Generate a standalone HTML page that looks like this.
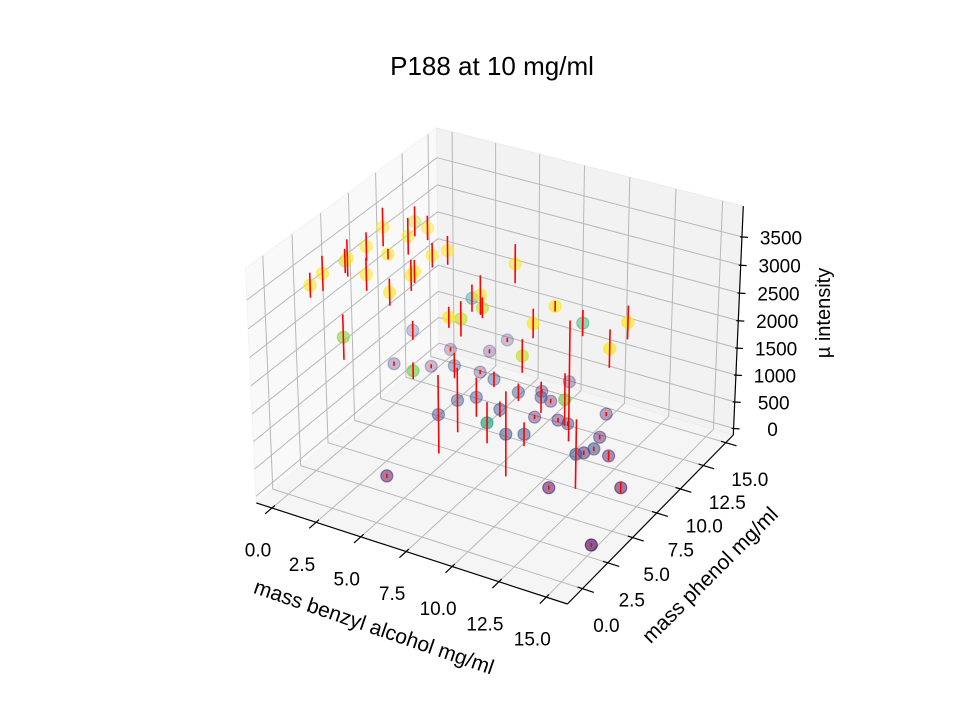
<!DOCTYPE html>
<html>
<head>
<meta charset="utf-8">
<style>
  html, body { margin: 0; padding: 0; background: #ffffff; }
  svg { display: block; font-family: "Liberation Sans", "DejaVu Sans", sans-serif; }
</style>
</head>
<body>
<svg id="chart" width="960" height="720" viewBox="0 0 960 720" xmlns="http://www.w3.org/2000/svg">
  <rect width="960" height="720" fill="#ffffff"/>
  <g id="panes"></g>
  <g id="grid"></g>
  <g id="axes"></g>
  <g id="labels"></g>
  <g id="marks"></g>
  <g id="errs"></g>
  <text x="492" y="75" text-anchor="middle" font-size="26" fill="#000">P188 at 10 mg/ml</text>
  <text x="374" y="634" text-anchor="middle" font-size="21" fill="#000" transform="rotate(19 374 627)">mass benzyl alcohol mg/ml</text>
  <text x="710" y="582" text-anchor="middle" font-size="21" fill="#000" transform="rotate(-45 710 575)">mass phenol mg/ml</text>
  <text x="823" y="320" text-anchor="middle" font-size="20" fill="#000" transform="rotate(-90 823 313)">µ intensity</text>
</svg>
<script>
const benzyl = [0.85,0.73,0.04,0.91,1.08,2.55,0.70,2.37,0.8,2.25,2.61,4.24,4.62,4.41,4.35,4.4,3.03,-0.07,-0.12,7.16,0.53,0.5,3.55,3.35,7.99,7.7,8.18,8.03,8.06,11.68,11.6,10.58,15.29,15.7,11.85,3.34,3.13,3.24,5.91,7.6,7.56,6.87,8.75,14.4,7.72,10.7,11.46,13.24,11.48,12.74,12.65,8.92,11.07,7.78,9.73,8.98,7.59,10.6,6.03,5.38,5.27,3.82,11.08,14.06,15.21];
const phenol = [1.24,2.51,5.56,4.42,5.86,3.48,7.99,5.73,10.8,7.78,9.0,6.7,7.49,4.46,4.87,2.54,0.59,11.88,10.1,0.0,12.65,14.65,9.86,11.97,1.85,3.44,4.43,4.87,7.94,5.25,3.31,10.09,5.58,3.02,1.85,15.57,14.1,12.94,9.68,14.38,9.19,12.84,9.33,1.23,12.21,12.5,10.38,6.37,8.7,5.51,9.06,10.78,7.78,10.45,5.87,5.43,7.31,0.8,7.73,7.02,5.38,2.88,5.91,7.66,2.51];
const intensity = [3500,3500,3200,3500,3500,3500,3500,3500,3200,3500,3500,3500,3500,3500,3500,3500,2900,950,600,2800,200,200,950,1850,3500,3200,3500,3200,3500,3500,3500,2350,3500,3500,3200,500,500,300,950,300,950,300,950,2800,300,300,300,950,300,950,300,300,950,300,950,950,950,2100,950,950,950,100,100,100,100];
const errors = [216,306,216,324,252,288,342,90,270,324,216,216,252,270,200,234,396,180,40,144,40,40,234,252,180,306,342,180,342,90,252,234,288,324,288,40,40,40,144,1150,162,40,288,450,40,40,40,40,40,630,90,40,40,40,216,774,144,360,360,594,720,40,40,108,40];
const xTicks = [0,2.5,5,7.5,10,12.5,15];
const yTicks = [0,2.5,5,7.5,10,12.5,15];
const zTicks = [0,500,1000,1500,2000,2500,3000,3500];
const xTickLabels = ["0.0","2.5","5.0","7.5","10.0","12.5","15.0"];
const yTickLabels = ["0.0","2.5","5.0","7.5","10.0","12.5","15.0"];
const zTickLabels = ["0","500","1000","1500","2000","2500","3000","3500"];

const X0=-0.9, X1=16.1, Y0=-1.45, Y1=15.85, Z0=-125, Z1=4040;
const AS=[1.1428,1.1428,0.857];
function proj(x,y,z){
  const px=(x-X0)/(X1-X0)*AS[0]-AS[0]/2;
  const py=(y-Y0)/(Y1-Y0)*AS[1]-AS[1]/2;
  const pz=(z-Z0)/(Z1-Z0)*AS[2]-AS[2]/2;
  const ud=0.866*px+0.5*py;
  const vd=-0.25*px+0.433*py+0.866*pz;
  const wd=0.433*px-0.75*py+0.5*pz;
  const dep=10-wd;
  return [499+3120*ud/dep, 355-3120*vd/dep, dep];
}
const NS="http://www.w3.org/2000/svg";
function mk(tag, attrs, parent){
  const e=document.createElementNS(NS,tag);
  for(const k in attrs) e.setAttribute(k, attrs[k]);
  parent.appendChild(e);
  return e;
}
function poly(pts){ return pts.map(p=>{const q=proj(p[0],p[1],p[2]);return q[0].toFixed(1)+","+q[1].toFixed(1);}).join(" "); }
function line(a,b,parent,stroke,w){
  const p=proj(a[0],a[1],a[2]), q=proj(b[0],b[1],b[2]);
  return mk("line",{x1:p[0].toFixed(1),y1:p[1].toFixed(1),x2:q[0].toFixed(1),y2:q[1].toFixed(1),stroke:stroke,"stroke-width":w},parent);
}
const panes=document.getElementById("panes");
let e;
e=mk("polygon",{points:poly([[X0,Y0,Z0],[X1,Y0,Z0],[X1,Y1,Z0],[X0,Y1,Z0]]),fill:"#f5f5f5",stroke:"#f0f0f0"},panes);


e=mk("polygon",{points:poly([[X0,Y0,Z0],[X0,Y1,Z0],[X0,Y1,Z1],[X0,Y0,Z1]]),fill:"#f9f9f9",stroke:"#f2f2f2"},panes);


e=mk("polygon",{points:poly([[X0,Y1,Z0],[X1,Y1,Z0],[X1,Y1,Z1],[X0,Y1,Z1]]),fill:"#f2f2f2",stroke:"#ececec"},panes);



const grid=document.getElementById("grid");
const GC="#b8b8b8";
xTicks.forEach(t=>{
  e=line([t,Y0,Z0],[t,Y1,Z0],grid,GC,1);
  
  
  e=line([t,Y1,Z0],[t,Y1,Z1],grid,GC,1);
  
  
});
yTicks.forEach(t=>{
  e=line([X0,t,Z0],[X1,t,Z0],grid,GC,1);
  
  
  e=line([X0,t,Z0],[X0,t,Z1],grid,GC,1);
  
  
});
zTicks.forEach(t=>{
  e=line([X0,Y0,t],[X0,Y1,t],grid,GC,1);
  
  
  e=line([X0,Y1,t],[X1,Y1,t],grid,GC,1);
  
  
});

const axes=document.getElementById("axes");
e=line([X0,Y0,Z0],[X1,Y0,Z0],axes,"#000",1.2);


e=line([X1,Y0,Z0],[X1,Y1,Z0],axes,"#000",1.2);


e=line([X1,Y1,Z0],[X1,Y1,Z1],axes,"#000",1.2);



const labels=document.getElementById("labels");
const yr=Y1-Y0, xr=X1-X0;
xTicks.forEach((t,i)=>{
  e=line([t,Y0+0.015*yr,Z0],[t,Y0-0.035*yr,Z0],axes,"#000",1.2);
  
  
  const p=proj(t,Y0,Z0);
  e=mk("text",{x:(p[0]-14).toFixed(1),y:(p[1]+43).toFixed(1),"text-anchor":"middle","dominant-baseline":"central","font-size":"19",fill:"#000"},labels);
  e.textContent=xTickLabels[i];
  
  
});
yTicks.forEach((t,i)=>{
  e=line([X1-0.015*xr,t,Z0],[X1+0.035*xr,t,Z0],axes,"#000",1.2);
  
  
  const p=proj(X1,t,Z0);
  e=mk("text",{x:(p[0]+24).toFixed(1),y:(p[1]+38).toFixed(1),"text-anchor":"middle","dominant-baseline":"central","font-size":"19",fill:"#000"},labels);
  e.textContent=yTickLabels[i];
  
  
});
zTicks.forEach((t,i)=>{
  const p=proj(X1,Y1,t);
  e=mk("line",{x1:(p[0]-2).toFixed(1),y1:p[1].toFixed(1),x2:(p[0]+6).toFixed(1),y2:(p[1]+0.5).toFixed(1),stroke:"#000","stroke-width":1.2},axes);
  
  
  e=mk("text",{x:(p[0]+39).toFixed(1),y:(p[1]+2).toFixed(1),"text-anchor":"middle","dominant-baseline":"central","font-size":"19",fill:"#000"},labels);
  e.textContent=zTickLabels[i];
  
  
});

const VIR=[[68,1,84],[72,40,120],[62,74,137],[49,104,142],[38,130,142],[31,158,137],[53,183,121],[109,205,89],[180,222,44],[253,231,37]];
function viridis(t){
  t=Math.max(0,Math.min(1,t));
  const s=t*(VIR.length-1), i=Math.min(VIR.length-2,Math.floor(s)), f=s-i;
  return VIR[i].map((c,k)=>Math.round(c+(VIR[i+1][k]-c)*f));
}
const zmin=Math.min(...intensity), zmax=Math.max(...intensity);
const P=benzyl.map((b,i)=>{const q=proj(b,phenol[i],intensity[i]);return {i:i,x:q[0],y:q[1],d:q[2]};});
const dmin=Math.min(...P.map(p=>p.d)), dmax=Math.max(...P.map(p=>p.d));
const order=P.slice().sort((a,b)=>b.d-a.d);
const marks=document.getElementById("marks");
const errs=document.getElementById("errs");
order.forEach(p=>{
  const c=viridis((intensity[p.i]-zmin)/(zmax-zmin));
  const a=(1-0.7*(p.d-dmin)/(dmax-dmin))*0.75;
  const col="rgb("+c.join(",")+")";
  const el=mk("circle",{cx:p.x.toFixed(1),cy:p.y.toFixed(1),r:6,fill:col,"fill-opacity":a.toFixed(2),stroke:col,"stroke-opacity":a.toFixed(2),"stroke-width":1.2},marks);
  
  
});
benzyl.forEach((b,i)=>{
  const el=line([b,phenol[i],intensity[i]-errors[i]],[b,phenol[i],intensity[i]+errors[i]],errs,"#ff0000",1.6);
  
  
});
</script>
</body>
</html>
